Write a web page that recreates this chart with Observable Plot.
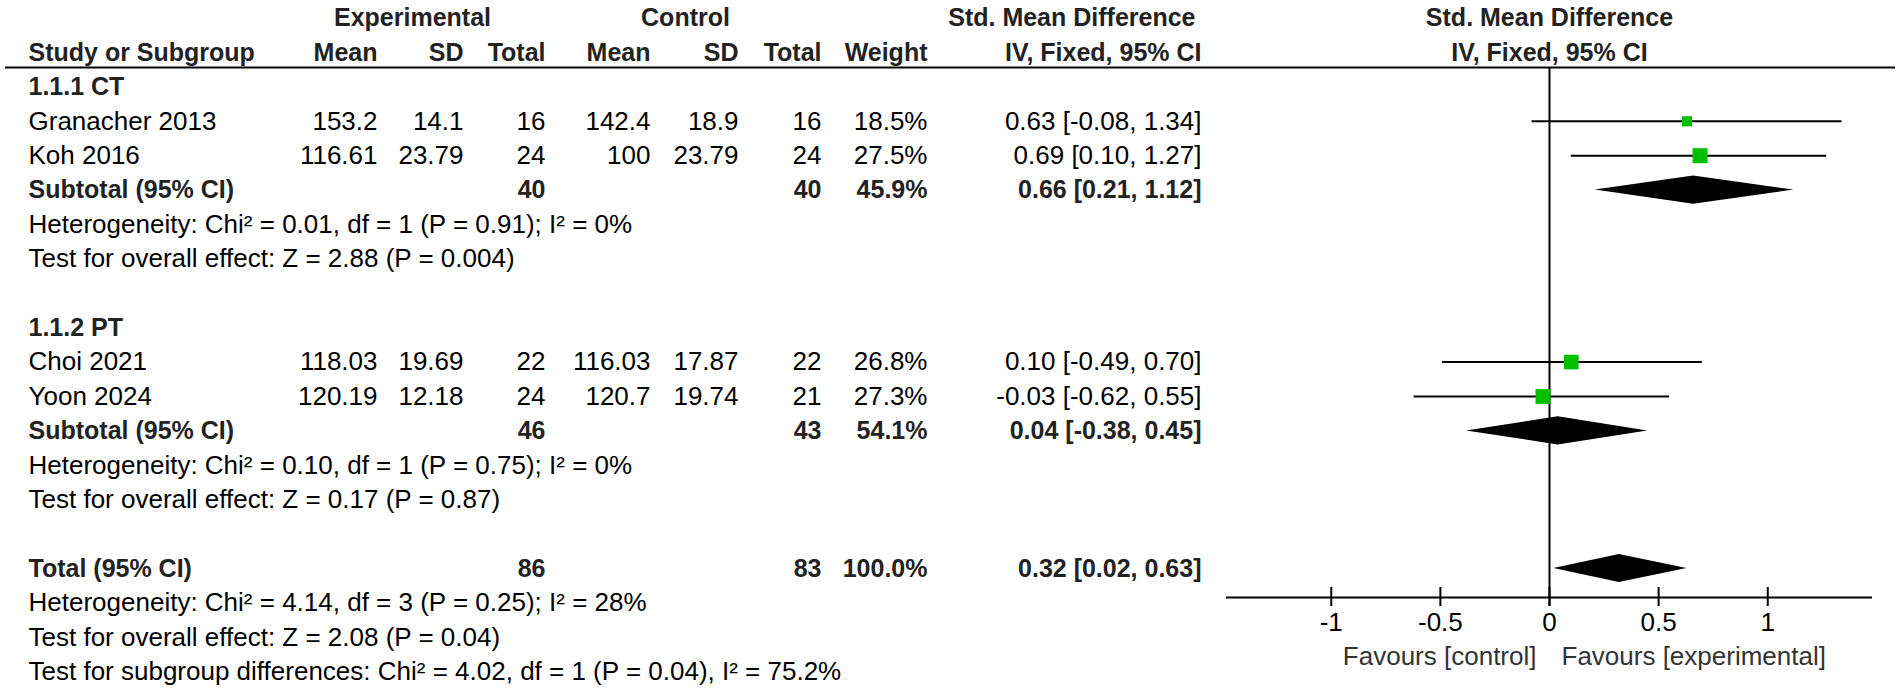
<!DOCTYPE html>
<html><head><meta charset="utf-8">
<script src="https://cdn.jsdelivr.net/npm/d3@7"></script>
<script src="https://cdn.jsdelivr.net/npm/@observablehq/plot@0.6"></script>
<style>
html,body{margin:0;padding:0;background:#fff;}
#chart svg{display:block;}
</style></head><body><div id="chart"></div>
<script>
// ---------------- data ----------------
const subgroups = ["1.1.1 CT", "1.1.2 PT"];
const studies = ["Granacher 2013", "Koh 2016", "Choi 2021", "Yoon 2024"];
const studyGroup = [0, 0, 1, 1];
const expMean = [153.2, 116.61, 118.03, 120.19];
const expSD = [14.1, 23.79, 19.69, 12.18];
const expN = [16, 24, 22, 24];
const ctlMean = [142.4, 100, 116.03, 120.7];
const ctlSD = [18.9, 23.79, 17.87, 19.74];
const ctlN = [16, 24, 22, 21];
const weight = [18.5, 27.5, 26.8, 27.3];
const smd = [0.63, 0.69, 0.10, -0.03];
const smdLo = [-0.08, 0.10, -0.49, -0.62];
const smdHi = [1.34, 1.27, 0.70, 0.55];

const subExpN = [40, 46];
const subCtlN = [40, 43];
const subWeight = [45.9, 54.1];
const subSmd = [0.66, 0.04];
const subLo = [0.21, -0.38];
const subHi = [1.12, 0.45];
const subHet = ["Heterogeneity: Chi² = 0.01, df = 1 (P = 0.91); I² = 0%",
                "Heterogeneity: Chi² = 0.10, df = 1 (P = 0.75); I² = 0%"];
const subTest = ["Test for overall effect: Z = 2.88 (P = 0.004)",
                 "Test for overall effect: Z = 0.17 (P = 0.87)"];

const totLabel = "Total (95% CI)";
const totExpN = 86, totCtlN = 83, totWeight = 100.0;
const totSmd = 0.32, totLo = 0.02, totHi = 0.63;
const totNotes = ["Heterogeneity: Chi² = 4.14, df = 3 (P = 0.25); I² = 28%",
                  "Test for overall effect: Z = 2.08 (P = 0.04)",
                  "Test for subgroup differences: Chi² = 4.02, df = 1 (P = 0.04), I² = 75.2%"];

const xTicks = [-1, -0.5, 0, 0.5, 1];
const xExtent = [-1.48, 1.48];
const favours = ["Favours [control]", "Favours [experimental]"];
const groupHeads = ["Experimental", "Control"];
const colHeads = ["Study or Subgroup", "Mean", "SD", "Total", "Mean", "SD", "Total", "Weight"];
const ciHeads = ["Std. Mean Difference", "IV, Fixed, 95% CI"];

// ---------------- layout (pixels) ----------------
const W = 1901, H = 689;
const ROW0 = 17.6, PITCH = 34.4;           // row 0 centre, row spacing
const rowOf = px => (px - ROW0) / PITCH;
const UNDER_Y = 67, AXIS_Y = 597, FAV_Y = 656;
const COL = {
  study: {x: 28, a: "start"}, eMean: {x: 377, a: "end"}, eSD: {x: 463, a: "end"}, eN: {x: 545, a: "end"},
  cMean: {x: 650, a: "end"}, cSD: {x: 738, a: "end"}, cN: {x: 821, a: "end"}, w: {x: 927, a: "end"},
  ci: {x: 1201, a: "end"}, ciHead: {x: 1195, a: "end"}, expHead: {x: 412, a: "middle"}, ctlHead: {x: 685, a: "middle"}
};
const headCols = ["study", "eMean", "eSD", "eN", "cMean", "cSD", "cN", "w"];

const fmtCI = (e, l, h) => `${e.toFixed(2)} [${l.toFixed(2)}, ${h.toFixed(2)}]`;
const fmtW = w => w.toFixed(1) + "%";

// ---------------- build rows ----------------
const cells = [];
const add = (row, col, text, bold) => cells.push({row, col, text: String(text), bold});
add(0, "expHead", groupHeads[0], true);
add(0, "ctlHead", groupHeads[1], true);
add(0, "ciHead", ciHeads[0], true);
headCols.forEach((c, i) => add(1, c, colHeads[i], true));
add(1, "ci", ciHeads[1], true);

const studyData = [];
const pooled = [];
let r = 2;
subgroups.forEach((g, gi) => {
  add(r++, "study", g, true);
  studies.forEach((s, i) => {
    if (studyGroup[i] !== gi) return;
    add(r, "study", s, false);
    add(r, "eMean", expMean[i], false); add(r, "eSD", expSD[i], false); add(r, "eN", expN[i], false);
    add(r, "cMean", ctlMean[i], false); add(r, "cSD", ctlSD[i], false); add(r, "cN", ctlN[i], false);
    add(r, "w", fmtW(weight[i]), false);
    add(r, "ci", fmtCI(smd[i], smdLo[i], smdHi[i]), false);
    studyData.push({row: r, smd: smd[i], lo: smdLo[i], hi: smdHi[i], weight: weight[i]});
    r++;
  });
  add(r, "study", "Subtotal (95% CI)", true);
  add(r, "eN", subExpN[gi], true); add(r, "cN", subCtlN[gi], true);
  add(r, "w", fmtW(subWeight[gi]), true);
  add(r, "ci", fmtCI(subSmd[gi], subLo[gi], subHi[gi]), true);
  pooled.push({row: r, est: subSmd[gi], lo: subLo[gi], hi: subHi[gi]});
  r++;
  add(r++, "study", subHet[gi], false);
  add(r++, "study", subTest[gi], false);
  r++; // blank
});
add(r, "study", totLabel, true);
add(r, "eN", totExpN, true); add(r, "cN", totCtlN, true);
add(r, "w", fmtW(totWeight), true);
add(r, "ci", fmtCI(totSmd, totLo, totHi), true);
pooled.push({row: r, est: totSmd, lo: totLo, hi: totHi});
r++;
totNotes.forEach(t => add(r++, "study", t, false));

const DH = 0.41; // diamond half height in rows
const diamondPts = pooled.flatMap((p, g) => [
  {g, row: p.row, x: p.lo, k: 0}, {g, row: p.row, x: p.est, k: 1}, {g, row: p.row, x: p.hi, k: 0}
]);

// ---------------- marks ----------------
const FONT = 26, BFONT = 25;
const textMarks = [];
Object.keys(COL).forEach(c => {
  [false, true].forEach(b => {
    const d = cells.filter(e => e.col === c && e.bold === b);
    if (!d.length) return;
    textMarks.push(Plot.text(d, {
      y: "row", text: "text", frameAnchor: "left", dx: COL[c].x, textAnchor: COL[c].a,
      fontSize: b ? BFONT : FONT, fontWeight: b ? "bold" : "normal", fill: b ? "#222" : "#000"
    }));
  });
});

const chart = Plot.plot({
  width: W, height: H,
  marginLeft: 0, marginRight: 0, marginTop: 0, marginBottom: H - AXIS_Y,
  style: {fontFamily: "'Liberation Sans', Arial, sans-serif", background: "#fff", color: "#000"},
  x: {domain: xExtent, range: [1226, 1872]},
  y: {domain: [0, 1], range: [ROW0, ROW0 + PITCH], axis: null},
  r: {type: "linear", domain: [0, 27.5], range: [0, 8.46]},
  marks: [
    Plot.ruleY([rowOf(UNDER_Y)], {insetLeft: 5, insetRight: 6, strokeWidth: 2, stroke: "#000"}),
    ...textMarks,
    Plot.text(ciHeads, {x: 0, y: (d, i) => i, text: d => d, fontSize: BFONT, fontWeight: "bold", fill: "#222"}),
    Plot.ruleX([0], {y1: rowOf(UNDER_Y), y2: rowOf(AXIS_Y + 9), strokeWidth: 2, stroke: "#000"}),
    Plot.ruleY(studyData, {y: "row", x1: "lo", x2: "hi", strokeWidth: 2, stroke: "#000"}),
    Plot.dot(studyData, {x: "smd", y: "row", r: "weight", symbol: "square", fill: "#00c000"}),
    Plot.area(diamondPts, {x1: "x", y1: d => d.row - DH * d.k, y2: d => d.row + DH * d.k, z: "g", fill: "#000"}),
    Plot.ruleY([rowOf(AXIS_Y)], {x1: xExtent[0], x2: xExtent[1], strokeWidth: 2, stroke: "#000"}),
    Plot.ruleX(xTicks, {x: d => d, y1: rowOf(AXIS_Y - 10), y2: rowOf(AXIS_Y + 9), strokeWidth: 2, stroke: "#000"}),
    Plot.axisX(xTicks, {anchor: "bottom", tickSize: 0, tickPadding: 15, tickFormat: d => String(d), fontSize: FONT, fill: "#000"}),
    Plot.text([favours[0]], {x: 0, y: rowOf(FAV_Y), text: d => d, textAnchor: "end", dx: -13, fontSize: FONT, fill: "#333"}),
    Plot.text([favours[1]], {x: 0, y: rowOf(FAV_Y), text: d => d, textAnchor: "start", dx: 12, fontSize: FONT, fill: "#333"})
  ]
});
document.getElementById("chart").appendChild(chart);
</script>
</body></html>
